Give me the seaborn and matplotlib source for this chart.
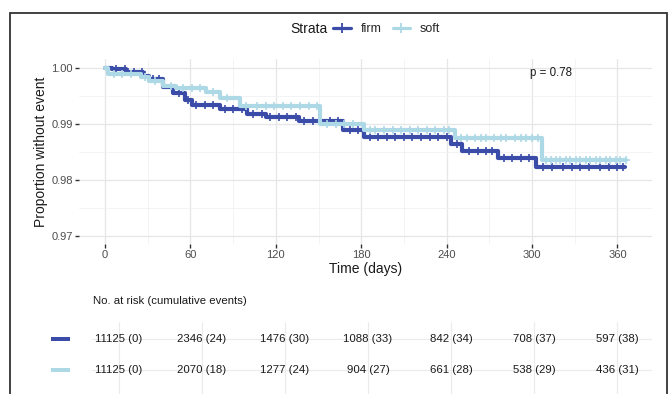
import numpy as np
import pandas as pd
import matplotlib
matplotlib.use("Agg")
import matplotlib.pyplot as plt
import matplotlib.transforms as mtransforms
from matplotlib.lines import Line2D
from matplotlib.patches import Rectangle
import seaborn as sns

# ---------------- data ----------------
strata = ["firm", "soft"]
palette = {"firm": "#3A4BA8", "soft": "#ADD8E6"}

firm_time = [0, 5, 15, 27, 31, 41, 48, 56, 61, 81, 100, 113, 136, 167, 182, 243, 251, 276, 303, 365]
firm_surv = [1.0, 0.9997, 0.9993, 0.9986, 0.9979, 0.9966, 0.9955, 0.9942, 0.9934, 0.9927,
             0.9918, 0.9912, 0.9904, 0.9889, 0.9876, 0.9863, 0.9852, 0.9839, 0.9823, 0.9823]

soft_time = [0, 2, 25, 31, 41, 50, 71, 81, 95, 151, 182, 246, 307, 366]
soft_surv = [1.0, 0.9989, 0.9984, 0.9976, 0.9968, 0.9964, 0.9956, 0.9946, 0.9931,
             0.9900, 0.9889, 0.9874, 0.9835, 0.9835]

firm_censor = [8, 14, 20, 26, 34, 38, 52, 58, 64, 70, 76, 84, 90, 96, 104, 110, 116, 122, 128,
               134, 140, 146, 152, 158, 164, 172, 178, 186, 192, 198, 204, 210, 216, 222, 228,
               234, 240, 247, 256, 262, 268, 272, 280, 286, 292, 298, 308, 314, 322, 328, 334,
               340, 348, 354, 360, 364]
soft_censor = [6, 12, 18, 28, 35, 46, 55, 61, 67, 76, 86, 99, 107, 113, 119, 125, 131, 137, 143,
               149, 156, 162, 168, 174, 186, 190, 196, 202, 208, 214, 220, 226, 232, 238, 242,
               250, 254, 260, 264, 268, 273, 278, 282, 288, 292, 296, 300, 304, 310, 313, 317,
               320, 324, 327, 331, 334, 338, 341, 345, 348, 352, 355, 359, 362, 366]

risk_times = [0, 60, 120, 180, 240, 300, 360]
firm_risk = ["11125 (0)", "2346 (24)", "1476 (30)", "1088 (33)", "842 (34)", "708 (37)", "597 (38)"]
soft_risk = ["11125 (0)", "2070 (18)", "1277 (24)", "904 (27)", "661 (28)", "538 (29)", "436 (31)"]
y_ticks = [0.97, 0.98, 0.99, 1.00]
p_label = "p = 0.78"

curves = {
    "firm": (firm_time, firm_surv, firm_censor),
    "soft": (soft_time, soft_surv, soft_censor),
}

# ---------------- style ----------------
sns.set_theme(style="whitegrid")
plt.rcParams["font.family"] = ["Liberation Sans", "DejaVu Sans"]

W, H = 670, 394
fig = plt.figure(figsize=(W / 100, H / 100), dpi=100)


def fx(px):
    return px / W


def fy(py):
    return 1 - py / H


# ---------------- main KM panel ----------------
ax = fig.add_axes([fx(79), fy(244), fx(652) - fx(79), fy(59.3) - fy(244)])

z = 2
for s in strata:
    t, v, cens = curves[s]
    df = pd.DataFrame({"time": t, "surv": v})
    sns.lineplot(data=df, x="time", y="surv", color=palette[s], drawstyle="steps-post",
                 estimator=None, linewidth=3.0, ax=ax, legend=False, zorder=z)
    idx = np.searchsorted(np.asarray(t), np.asarray(cens), side="right") - 1
    dfc = pd.DataFrame({"time": cens, "surv": np.asarray(v)[idx]})
    sns.scatterplot(data=dfc, x="time", y="surv", marker="+", s=26, linewidth=1.2,
                    color=palette[s], ax=ax, legend=False, zorder=z + 0.5)
    z += 1

ax.set_xlim(-18.3, 384.3)
ax.set_ylim(0.96852, 1.0015)
ax.set_xticks(risk_times)
ax.set_xticks([30, 90, 150, 210, 270, 330], minor=True)
ax.set_yticks(y_ticks)
ax.set_yticks([0.975, 0.985, 0.995], minor=True)
ax.set_yticklabels([f"{v:.2f}" for v in y_ticks])
ax.grid(True, which="major", color="#E6E6E6", linewidth=0.9)
ax.grid(True, which="minor", color="#F1F1F1", linewidth=0.6)
for sp in ax.spines.values():
    sp.set_visible(False)
ax.tick_params(axis="both", which="major", bottom=True, left=True, length=3, width=1.0,
               color="#333333", labelsize=8, labelcolor="#4D4D4D", pad=1.5)
ax.tick_params(axis="both", which="minor", length=0)
ax.set_xlabel("Time (days)", fontsize=10, labelpad=1, color="#1A1A1A")
ax.set_ylabel("Proportion without event", fontsize=10, labelpad=2, color="#1A1A1A")
ax.text(298.8, 0.99905, p_label, fontsize=8.3, va="center", ha="left", color="#1A1A1A")

# ---------------- legend ----------------
fig.text(fx(290), fy(29), "Strata", ha="left", va="center", fontsize=10, color="#1A1A1A")
handles = [Line2D([0], [0], color=palette[s], lw=2.3, marker="+", markersize=7,
                  markeredgewidth=1.3) for s in strata]
fig.legend(handles, strata, ncol=2, loc="center left", bbox_to_anchor=(fx(333), fy(29)),
           frameon=False, fontsize=9, handlelength=1.4, handletextpad=0.8,
           columnspacing=0.9, borderpad=0, borderaxespad=0)

# ---------------- risk table ----------------
axt = fig.add_axes([fx(92), 0, fx(652) - fx(92), fy(322)])
axt.set_xlim(-19.5, 385.3)
axt.set_ylim(0.226, 2.548)
axt.set_xticks(risk_times)
axt.set_yticks([1, 2])
axt.set_xticklabels([])
axt.set_yticklabels([])
axt.tick_params(length=0)
axt.grid(True, which="major", color="#EBEBEB", linewidth=0.8)
for sp in axt.spines.values():
    sp.set_visible(False)

rows = {"firm": 2, "soft": 1}
labels = {"firm": firm_risk, "soft": soft_risk}
trans = mtransforms.blended_transform_factory(axt.transAxes, axt.transData)
for s in strata:
    for t, lab in zip(risk_times, labels[s]):
        axt.text(t, rows[s], lab, ha="center", va="center", fontsize=8.2, color="#1A1A1A")
    axt.add_patch(Rectangle((-0.0732, rows[s] - 0.08), 0.034, 0.16, transform=trans,
                            clip_on=False, facecolor=palette[s], edgecolor="none"))

fig.text(fx(93), fy(301), "No. at risk (cumulative events)", ha="left", va="center",
         fontsize=8.2, color="#1A1A1A")

# ---------------- outer frame ----------------
fig.add_artist(Rectangle((fx(9.5), -0.05), fx(667) - fx(9.5), fy(13.5) + 0.05,
                         transform=fig.transFigure, fill=False, edgecolor="#333333",
                         linewidth=1.3))

fig.savefig("out.png", dpi=100)
